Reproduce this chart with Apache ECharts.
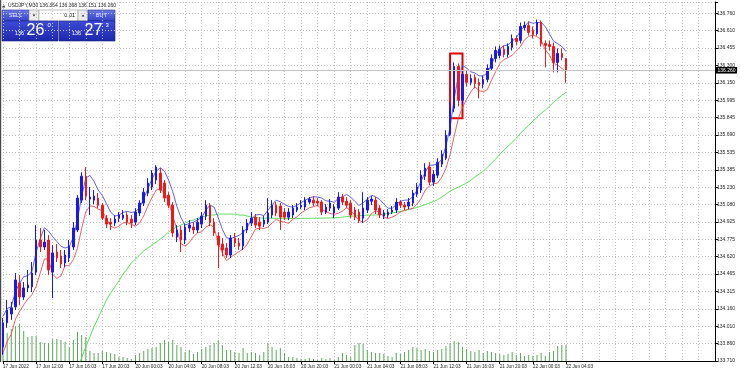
<!DOCTYPE html>
<html><head><meta charset="utf-8">
<script src="https://cdn.jsdelivr.net/npm/echarts@6.0.0/dist/echarts.min.js"></script>
<style>html,body{margin:0;padding:0;background:#fff}#c{width:740px;height:374px}</style>
</head><body><div id="c"></div>
<script>
// ---- data ----
const symbolTitle = 'USDJPY,M30';
const lastOHLC = ['136.364', '136.368', '136.151', '136.260'];
const xTickLabels = ['17 Jun 2022','17 Jun 12:03','17 Jun 16:03','17 Jun 20:03','20 Jun 00:03','20 Jun 04:03','20 Jun 08:03','20 Jun 12:03','20 Jun 16:03','20 Jun 20:03','21 Jun 00:03','21 Jun 04:03','21 Jun 08:03','21 Jun 12:03','21 Jun 16:03','21 Jun 20:03','22 Jun 00:03','22 Jun 04:03'];
const yTickLabels = ['133.710','133.860','134.010','134.160','134.315','134.465','134.620','134.775','134.925','135.080','135.230','135.385','135.535','135.690','135.845','135.995','136.150','136.300','136.455','136.610','136.760'];
const yMin = 133.710, yStep = 0.1525, yMax = 136.859;
const bidPrice = 136.260;
const totalSlots = 173; // bars + empty space to the right
const boxFrom = 108, boxTo = 111, boxTop = 136.408, boxBottom = 135.839;

const opens = [133.835,134.045,134.123,134.185,134.395,134.272,134.351,134.360,134.490,134.771,
134.710,134.771,134.490,134.666,134.631,134.570,134.614,134.710,134.859,135.121,
135.331,135.130,135.121,135.139,135.077,134.963,134.928,134.920,134.963,134.963,
134.990,134.955,134.928,135.008,135.095,135.183,135.236,135.297,135.358,135.271,
135.165,135.077,134.798,134.859,134.771,134.876,134.885,134.859,134.911,134.981,
135.069,134.928,134.806,134.736,134.701,134.640,134.788,134.745,134.718,134.859,
134.920,134.972,134.928,134.911,134.928,134.990,135.077,135.069,135.016,134.972,
134.990,135.034,135.060,135.060,135.104,135.121,135.112,135.104,135.016,135.051,
135.008,135.051,135.148,135.112,135.095,135.034,135.016,134.963,135.034,135.112,
135.121,135.051,134.981,134.990,135.016,135.034,135.104,135.077,135.069,135.095,
135.174,135.209,135.331,135.411,135.279,135.340,135.437,135.489,135.699,135.927,
136.294,135.997,136.224,136.154,136.198,136.154,136.137,136.180,136.277,136.364,
136.390,136.443,136.399,136.461,136.539,136.522,136.636,136.653,136.609,136.583,
136.679,136.496,136.487,136.469,136.329,136.408,136.364];
const closes = [134.045,134.158,134.176,134.421,134.272,134.351,134.377,134.482,134.771,134.710,
134.753,134.508,134.658,134.614,134.561,134.640,134.718,134.876,135.139,135.331,
135.156,135.148,135.156,135.077,134.963,134.911,134.911,134.955,134.990,134.990,
134.928,134.920,135.016,135.095,135.191,135.271,135.358,135.411,135.209,135.139,
135.077,134.833,134.859,134.771,134.885,134.902,134.859,134.928,134.981,135.077,
134.928,134.833,134.727,134.684,134.640,134.788,134.745,134.718,134.859,134.920,
134.963,134.902,134.893,134.946,135.008,135.077,135.008,134.972,134.972,135.016,
135.051,135.060,135.077,135.121,135.130,135.095,135.095,135.016,135.060,135.095,
135.060,135.148,135.104,135.077,134.990,134.972,134.946,135.051,135.121,135.130,
135.034,134.990,135.008,135.016,135.034,135.104,135.077,135.060,135.104,135.183,
135.236,135.340,135.402,135.279,135.349,135.454,135.524,135.690,135.927,136.294,
135.997,136.224,136.154,136.189,136.145,136.128,136.180,136.277,136.364,136.434,
136.443,136.399,136.469,136.539,136.513,136.644,136.653,136.592,136.574,136.679,
136.496,136.478,136.469,136.329,136.408,136.373,136.260];
const highs = [134.088,134.246,134.228,134.482,134.464,134.403,134.508,134.578,134.902,134.876,
134.859,134.815,134.727,134.736,134.684,134.684,134.771,134.928,135.165,135.366,
135.411,135.236,135.209,135.183,135.095,134.990,134.963,134.990,135.016,135.034,
135.016,134.990,135.051,135.121,135.227,135.314,135.384,135.428,135.402,135.297,
135.191,135.104,134.902,134.893,134.911,134.946,134.928,134.963,135.016,135.121,
135.095,134.963,134.841,134.788,134.745,134.815,134.833,134.788,134.893,134.955,
135.016,134.999,134.972,134.981,135.139,135.121,135.104,135.095,135.051,135.051,
135.077,135.095,135.121,135.148,135.148,135.156,135.139,135.121,135.086,135.130,
135.086,135.191,135.174,135.148,135.121,135.060,135.042,135.191,135.148,135.156,
135.148,135.077,135.034,135.042,135.069,135.139,135.121,135.104,135.139,135.209,
135.271,135.384,135.445,135.454,135.384,135.489,135.559,135.734,135.979,136.329,
136.320,136.259,136.259,136.224,136.224,136.189,136.215,136.312,136.399,136.469,
136.478,136.478,136.496,136.574,136.565,136.679,136.688,136.688,136.644,136.706,
136.697,136.522,136.522,136.504,136.452,136.452,136.368];
const lows = [133.764,134.001,134.071,134.158,134.202,134.246,134.315,134.315,134.464,134.666,
134.684,134.464,134.263,134.578,134.526,134.535,134.578,134.684,134.841,135.095,
135.121,134.990,135.086,135.051,134.946,134.876,134.859,134.893,134.928,134.946,
134.902,134.876,134.902,134.981,135.069,135.156,135.209,135.262,135.183,135.104,
135.051,134.798,134.753,134.666,134.736,134.841,134.824,134.833,134.876,134.946,
134.893,134.806,134.526,134.631,134.614,134.614,134.710,134.684,134.684,134.833,
134.893,134.876,134.859,134.885,134.911,134.963,134.981,134.859,134.946,134.946,
134.963,135.016,135.042,135.034,135.086,135.069,135.069,134.990,134.999,135.025,
134.963,135.034,135.077,135.051,134.963,134.946,134.920,134.920,135.008,135.077,
134.999,134.963,134.955,134.963,134.999,135.008,135.051,135.034,135.042,135.069,
135.148,135.183,135.297,135.253,135.244,135.314,135.411,135.472,135.682,135.892,
135.944,135.962,136.119,136.128,136.102,136.014,136.102,136.154,136.259,136.329,
136.364,136.373,136.373,136.434,136.478,136.496,136.609,136.565,136.539,136.565,
136.469,136.285,136.434,136.242,136.242,136.347,136.151];
const volumes = [3000,2800,3200,3500,3700,3000,2400,2500,2500,1900,
1800,1800,2200,2200,2100,1900,1400,2100,2900,2600,
2400,1000,800,800,1000,900,800,700,400,400,
300,200,600,800,1000,1200,1300,1400,1800,2100,
1900,2100,1600,1400,900,1100,700,900,1200,1400,
1600,1800,2100,1600,1100,1100,900,800,1300,800,
900,800,600,900,1800,1400,1100,1300,800,400,
400,300,200,200,300,200,100,300,200,300,
100,400,800,600,400,1600,1800,1700,1100,900,
800,800,700,500,400,800,700,900,1100,1400,
1300,1100,1200,1000,900,1100,1200,1500,1800,2000,
1900,1400,1200,1000,900,1100,800,1000,900,800,
700,600,700,900,600,800,500,600,500,600,
800,500,900,1000,1500,1600,1600];
const maHigh = [134.100,134.170,134.187,134.319,134.391,134.450,134.458,134.496,134.663,134.785,
134.879,134.850,134.800,134.759,134.716,134.701,134.713,134.794,134.955,135.153,
135.314,135.338,135.285,135.209,135.162,135.089,135.016,134.981,134.990,135.013,
135.022,135.013,135.019,135.054,135.133,135.221,135.308,135.375,135.405,135.376,
135.297,135.197,135.066,134.966,134.902,134.917,134.928,134.946,134.969,135.033,
135.077,135.060,134.966,134.864,134.791,134.783,134.798,134.812,134.838,134.879,
134.955,134.990,134.996,134.984,135.031,135.080,135.121,135.107,135.083,135.066,
135.060,135.074,135.098,135.121,135.139,135.151,135.148,135.139,135.115,135.112,
135.101,135.136,135.150,135.171,135.148,135.110,135.074,135.098,135.127,135.165,
135.151,135.127,135.086,135.051,135.048,135.083,135.110,135.121,135.121,135.151,
135.206,135.288,135.367,135.428,135.428,135.442,135.477,135.594,135.757,136.014,
136.209,136.303,136.279,136.247,136.236,136.212,136.209,136.239,136.309,136.393,
136.449,136.475,136.484,136.516,136.545,136.606,136.644,136.685,136.673,136.679,
136.682,136.642,136.580,136.516,136.493,136.469,136.424];
const maLow = [133.780,133.880,133.945,134.077,134.144,134.202,134.254,134.292,134.365,134.482,
134.605,134.605,134.470,134.435,134.456,134.546,134.546,134.599,134.701,134.873,
135.019,135.069,135.066,135.042,135.028,134.958,134.894,134.876,134.893,134.922,
134.925,134.908,134.893,134.920,134.984,135.069,135.145,135.209,135.218,135.183,
135.113,134.984,134.867,134.739,134.718,134.748,134.800,134.833,134.844,134.885,
134.905,134.882,134.742,134.654,134.590,134.620,134.646,134.669,134.693,134.734,
134.803,134.867,134.876,134.873,134.885,134.920,134.952,134.934,134.929,134.917,
134.952,134.975,135.007,135.031,135.054,135.063,135.075,135.043,135.019,135.005,
134.996,135.007,135.025,135.054,135.030,134.987,134.943,134.929,134.949,135.002,
135.028,135.013,134.972,134.960,134.972,134.990,135.019,135.031,135.042,135.048,
135.086,135.133,135.209,135.244,135.265,135.270,135.323,135.399,135.522,135.682,
135.839,135.933,136.008,136.070,136.116,136.081,136.073,136.090,136.172,136.247,
136.317,136.355,136.370,136.393,136.428,136.469,136.528,136.557,136.571,136.556,
136.524,136.440,136.396,136.320,136.306,136.277,136.247];
const maSlow = [null,null,null,null,null,null,null,null,null,null,null,null,null,null,null,null,null,null,
133.650,133.738,133.835,133.923,134.010,134.088,134.167,134.246,134.307,134.360,
134.412,134.473,134.517,134.570,134.605,134.640,134.675,134.701,134.727,134.753,
134.780,134.806,134.841,134.867,134.885,134.902,134.920,134.937,134.946,134.963,
134.972,134.981,134.990,134.990,134.999,134.999,134.999,134.999,134.999,134.990,
134.990,134.981,134.972,134.968,134.965,134.963,134.963,134.962,134.962,134.961,
134.961,134.960,134.960,134.960,134.961,134.961,134.962,134.962,134.963,134.963,
134.964,134.965,134.966,134.968,134.972,134.977,134.981,134.981,134.986,134.986,
134.990,134.990,134.990,134.994,134.999,135.003,135.008,135.016,135.021,135.030,
135.038,135.047,135.056,135.069,135.082,135.095,135.108,135.126,135.148,135.174,
135.200,135.218,135.235,135.253,135.270,135.296,135.323,135.349,135.375,135.410,
135.445,135.480,135.524,135.559,135.594,135.629,135.664,135.708,135.743,135.778,
135.813,135.848,135.883,135.909,135.944,135.979,136.010,136.040,136.066];

// ---- chart ----
const nBars = opens.length;
const cats = [];
for (let i = 0; i < totalSlots; i++) cats.push(String(i));
const candles = opens.map((o, i) => [o, closes[i], lows[i], highs[i]]);
const FONT = 'Liberation Sans';
const G = echarts.graphic;

const chart = echarts.init(document.getElementById('c'), null, {renderer: 'canvas'});
const gridLine = {color: '#c2c2c2', type: [1, 2], width: 1};

const option = {
  animation: false,
  backgroundColor: '#ffffff',
  textStyle: {fontFamily: FONT},
  grid: {left: 1, right: 25, top: 2, bottom: 13},
  xAxis: {
    type: 'category', data: cats, boundaryGap: false,
    axisLine: {show: true, lineStyle: {color: '#000', width: 1}},
    axisTick: {show: true, length: 3, interval: (i) => i % 8 === 0 && i < nBars, lineStyle: {color: '#000'}},
    axisLabel: {
      interval: (i) => i % 8 === 0 && i < nBars,
      formatter: (v, i) => xTickLabels[i / 8] || '',
      align: 'left', fontSize: 4.7, color: '#222', margin: 3, fontFamily: FONT
    },
    splitLine: {show: true, interval: (i) => i % 4 === 0, lineStyle: gridLine}
  },
  yAxis: [{
    type: 'value', position: 'right', min: yMin, max: yMax, interval: yStep,
    axisLine: {show: true, lineStyle: {color: '#000', width: 1}},
    axisTick: {show: true, length: 3, lineStyle: {color: '#000'}},
    axisLabel: {
      fontSize: 5, color: '#222', margin: 2, fontFamily: FONT,
      formatter: (v) => {
        const k = Math.round((v - yMin) / yStep);
        return (Math.abs(v - (yMin + k * yStep)) < 1e-4 && yTickLabels[k]) ? yTickLabels[k] : '';
      }
    },
    splitLine: {show: true, lineStyle: gridLine}
  }, {
    type: 'value', min: 0, max: 35900, show: false
  }],
  series: [
    {type: 'bar', yAxisIndex: 1, data: volumes, barWidth: 1, itemStyle: {color: '#5aa85a'}, silent: true, z: 1},
    {type: 'line', data: maSlow, showSymbol: false, symbol: 'none', lineStyle: {color: '#5fe05f', width: 1}, silent: true, z: 2},
    {type: 'line', data: maLow, showSymbol: false, symbol: 'none', lineStyle: {color: '#e85050', width: 0.9}, silent: true, z: 3},
    {type: 'line', data: maHigh, showSymbol: false, symbol: 'none', lineStyle: {color: '#5050e0', width: 0.9}, silent: true, z: 3},
    {
      type: 'candlestick', data: candles, barWidth: 2, z: 4, silent: true,
      itemStyle: {color: '#1818f0', color0: '#f01818', borderColor: '#1818f0', borderColor0: '#f01818', borderWidth: 1},
      markLine: {
        silent: true, symbol: ['none', 'none'], animation: false,
        lineStyle: {color: '#c4c4c4', type: 'solid', width: 1},
        label: {show: true, position: 'end', formatter: () => bidPrice.toFixed(3), color: '#fff', backgroundColor: '#000',
                fontSize: 5, fontFamily: FONT, padding: [1, 1.5, 0.5, 1.5], distance: 1},
        data: [{yAxis: bidPrice}]
      },
      markArea: {
        silent: true, label: {show: false},
        itemStyle: {color: 'rgba(0,0,0,0)', borderColor: '#e00000', borderWidth: 2},
        data: [[{xAxis: String(boxFrom), yAxis: boxTop}, {xAxis: String(boxTo), yAxis: boxBottom}]]
      }
    }
  ],
  graphic: [
    {type: 'rect', shape: {x: 0, y: 0, width: 1.2, height: 362}, style: {fill: '#4a4a4a'}, silent: true},
    {type: 'polygon', shape: {points: [[2, 7.5], [3.6, 4], [5.2, 7.5]]}, style: {fill: '#444'}, silent: true},
    {type: 'text', x: 8, y: 5.8, silent: true,
     style: {text: symbolTitle + ' ' + lastOHLC.join(' '), fill: '#222', font: '5px "Liberation Sans"', verticalAlign: 'middle'}},
    // one-click trading panel
    {type: 'rect', shape: {x: 2, y: 10, width: 27, height: 11},
     style: {fill: new G.LinearGradient(0, 0, 0, 1, [{offset: 0, color: '#6d78ea'}, {offset: 1, color: '#3343c9'}]), stroke: '#2a338f', lineWidth: 0.6}, silent: true},
    {type: 'text', x: 15.5, y: 15.7, silent: true, style: {text: 'SELL', fill: '#e6eaff', font: '5.5px "Liberation Sans"', align: 'center', verticalAlign: 'middle'}},
    {type: 'rect', shape: {x: 29, y: 10, width: 10, height: 11}, style: {fill: '#ececec', stroke: '#9a9a9a', lineWidth: 0.6}, silent: true},
    {type: 'polygon', shape: {points: [[32.6, 14.6], [35.4, 14.6], [34, 16.6]]}, style: {fill: '#333'}, silent: true},
    {type: 'rect', shape: {x: 39, y: 10, width: 39, height: 11}, style: {fill: '#ffffff', stroke: '#9a9a9a', lineWidth: 0.6}, silent: true},
    {type: 'text', x: 75, y: 15.7, silent: true, style: {text: '0.01', fill: '#111', font: '5.5px "Liberation Sans"', align: 'right', verticalAlign: 'middle'}},
    {type: 'rect', shape: {x: 78, y: 10, width: 10, height: 11}, style: {fill: '#ececec', stroke: '#9a9a9a', lineWidth: 0.6}, silent: true},
    {type: 'polygon', shape: {points: [[81.6, 16.4], [84.4, 16.4], [83, 14.4]]}, style: {fill: '#333'}, silent: true},
    {type: 'rect', shape: {x: 88, y: 10, width: 27, height: 11},
     style: {fill: new G.LinearGradient(0, 0, 0, 1, [{offset: 0, color: '#6d78ea'}, {offset: 1, color: '#3343c9'}]), stroke: '#2a338f', lineWidth: 0.6}, silent: true},
    {type: 'text', x: 101.5, y: 15.7, silent: true, style: {text: 'BUY', fill: '#e6eaff', font: '5.5px "Liberation Sans"', align: 'center', verticalAlign: 'middle'}},
    {type: 'rect', shape: {x: 2, y: 21, width: 56, height: 20},
     style: {fill: new G.LinearGradient(0, 0, 0, 1, [{offset: 0, color: '#3e4bd9'}, {offset: 1, color: '#1c27aa'}]), stroke: '#1a2080', lineWidth: 0.6}, silent: true},
    {type: 'rect', shape: {x: 59, y: 21, width: 56, height: 20},
     style: {fill: new G.LinearGradient(0, 0, 0, 1, [{offset: 0, color: '#3e4bd9'}, {offset: 1, color: '#1c27aa'}]), stroke: '#1a2080', lineWidth: 0.6}, silent: true},
    {type: 'text', x: 15, y: 33.8, silent: true, style: {text: '136', fill: '#fff', font: '5.5px "Liberation Sans"', verticalAlign: 'middle'}},
    {type: 'text', x: 26.5, y: 30.5, silent: true, style: {text: '26', fill: '#fff', font: '16px "Liberation Sans"', verticalAlign: 'middle'}},
    {type: 'text', x: 47.5, y: 25.5, silent: true, style: {text: '0', fill: '#fff', font: '6px "Liberation Sans"', verticalAlign: 'middle'}},
    {type: 'text', x: 72, y: 33.8, silent: true, style: {text: '136', fill: '#fff', font: '5.5px "Liberation Sans"', verticalAlign: 'middle'}},
    {type: 'text', x: 84.5, y: 30.5, silent: true, style: {text: '27', fill: '#fff', font: '16px "Liberation Sans"', verticalAlign: 'middle'}},
    {type: 'text', x: 105.5, y: 25.5, silent: true, style: {text: '3', fill: '#fff', font: '6px "Liberation Sans"', verticalAlign: 'middle'}}
  ]
};
chart.setOption(option);
</script>
</body></html>
